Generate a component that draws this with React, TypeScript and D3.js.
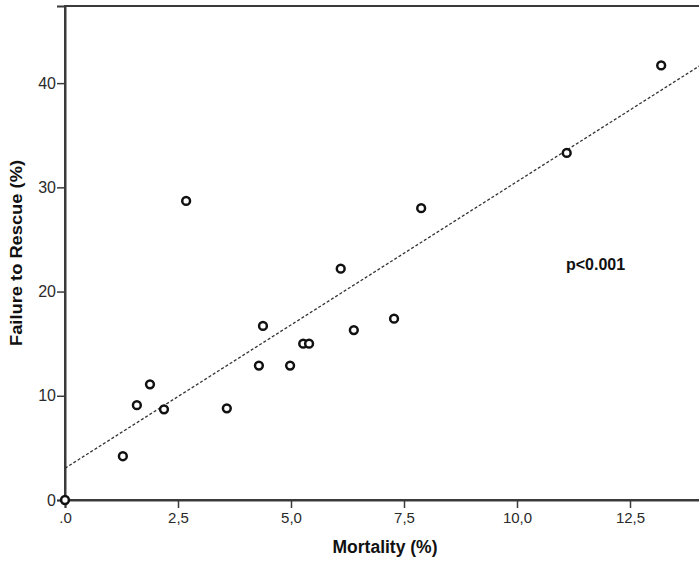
import React, { useEffect, useRef } from 'react';
import * as d3 from 'd3';

// values
const mortality = [0, 1.28, 1.59, 1.88, 2.19, 2.68, 3.58, 4.29, 4.38, 4.98, 5.27, 5.4, 6.1, 6.39, 7.28, 7.88, 11.1, 13.19];
const failureToRescue = [0, 4.2, 9.1, 11.1, 8.7, 28.7, 8.8, 12.9, 16.7, 12.9, 15.0, 15.0, 22.2, 16.3, 17.4, 28.0, 33.3, 41.7];
const xTicks = [0, 2.5, 5, 7.5, 10, 12.5];
const xTickLabels = ['.0', '2,5', '5,0', '7,5', '10,0', '12,5'];
const yTicks = [0, 10, 20, 30, 40];
// fit line as drawn in the reference
const fitIntercept = 3.05;
const fitSlope = 2.75;

const App = () => {
  const svgRef = useRef<SVGSVGElement>(null);

  useEffect(() => {
    const width = 699;
    const height = 563;
    const svg = d3.select(svgRef.current)
      .attr('width', width)
      .attr('height', height);
    svg.selectAll('*').remove();

    const x = d3.scaleLinear().domain([0, 14.2]).range([65, 65 + 45.2 * 14.2]);
    const y = d3.scaleLinear().domain([0, 47.4]).range([500, 6]);
    const font = 'Arial, "Liberation Sans", sans-serif';
    const axisColor = '#3a3a3a';

    // frame
    svg.append('rect')
      .attr('x', x(0))
      .attr('y', y(47.4))
      .attr('width', x(14.2) - x(0))
      .attr('height', y(0) - y(47.4))
      .attr('fill', 'none')
      .attr('stroke', axisColor)
      .attr('stroke-width', 2);

    const xAxis = svg.append('g')
      .attr('transform', `translate(0,${y(0)})`)
      .call(d3.axisBottom(x).tickValues(xTicks).tickSize(8).tickPadding(4)
        .tickFormat((d, i) => xTickLabels[i]));
    const yAxis = svg.append('g')
      .attr('transform', `translate(${x(0)},0)`)
      .call(d3.axisLeft(y).tickValues(yTicks).tickSize(8).tickPadding(1));

    [xAxis, yAxis].forEach(a => {
      a.select('.domain').attr('stroke', axisColor).attr('stroke-width', 2);
      a.selectAll('.tick line').attr('stroke', axisColor).attr('stroke-width', 1.5);
      a.selectAll('.tick text')
        .attr('fill', '#2a2a2a')
        .style('font-family', font);
    });
    xAxis.selectAll('.tick text').style('font-size', '15px');
    yAxis.selectAll('.tick text').style('font-size', '16px');

    const xEnd = 14.2;
    svg.append('line')
      .attr('x1', x(0))
      .attr('y1', y(fitIntercept))
      .attr('x2', x(xEnd))
      .attr('y2', y(fitIntercept + fitSlope * xEnd))
      .attr('stroke', '#333')
      .attr('stroke-width', 1.3)
      .attr('stroke-dasharray', '3,2');

    svg.selectAll('circle.pt')
      .data(mortality)
      .enter()
      .append('circle')
      .attr('class', 'pt')
      .attr('cx', d => x(d))
      .attr('cy', (d, i) => y(failureToRescue[i]))
      .attr('r', 3.9)
      .attr('fill', 'white')
      .attr('stroke', '#111')
      .attr('stroke-width', 2.5);

    svg.append('text')
      .attr('x', 566)
      .attr('y', 270)
      .style('font-family', font)
      .style('font-size', '16px')
      .style('font-weight', 'bold')
      .attr('fill', '#111')
      .text('p<0.001');

    svg.append('text')
      .attr('x', 385)
      .attr('y', 553)
      .attr('text-anchor', 'middle')
      .style('font-family', font)
      .style('font-size', '17.5px')
      .style('font-weight', 'bold')
      .attr('fill', '#111')
      .text('Mortality (%)');

    svg.append('text')
      .attr('transform', 'translate(22,253) rotate(-90)')
      .attr('text-anchor', 'middle')
      .attr('textLength', 186)
      .attr('lengthAdjust', 'spacingAndGlyphs')
      .style('font-family', font)
      .style('font-size', '17px')
      .style('font-weight', 'bold')
      .attr('fill', '#111')
      .text('Failure to Rescue (%)');
  }, []);

  return <svg ref={svgRef} style={{ position: 'absolute', left: 0, top: 0, background: 'white' }} />;
};

export default App;
